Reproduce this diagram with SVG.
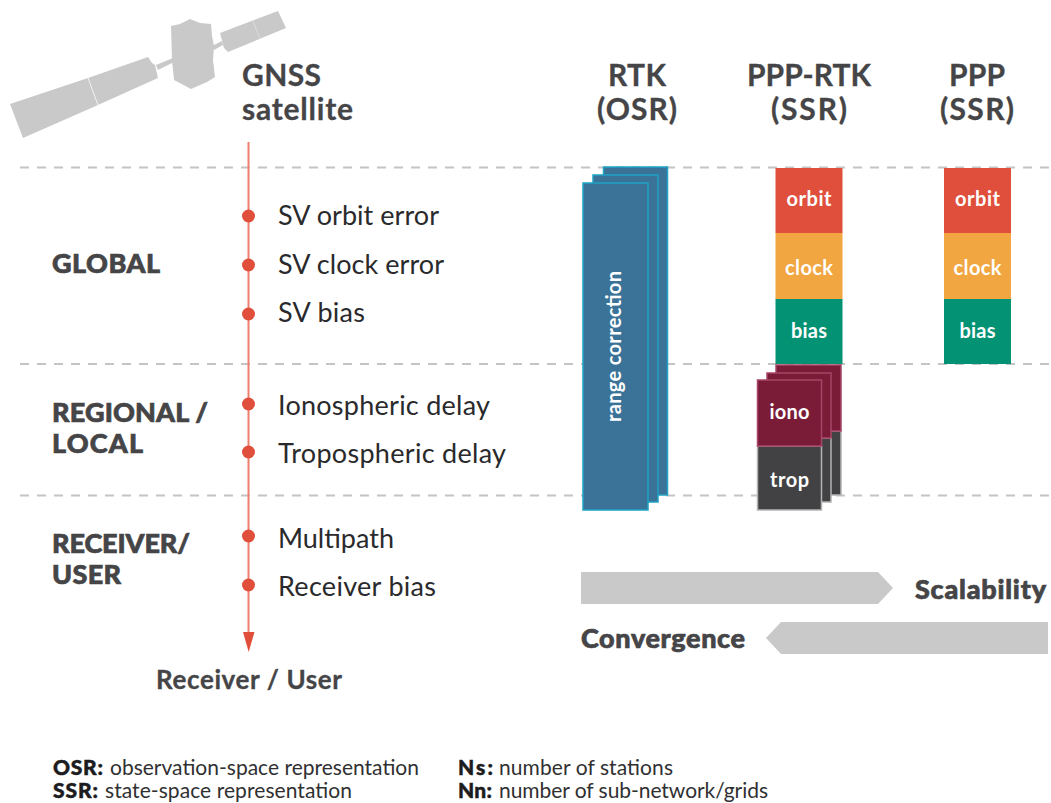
<svg xmlns="http://www.w3.org/2000/svg" width="1051" height="803" viewBox="0 0 1051 803">
<style>
text{font-family:"Lato","Noto Sans","Liberation Sans",sans-serif;fill:#454547}
.h{font-size:30px;font-weight:700;text-anchor:middle;stroke:#454547;stroke-width:.3px}
.hl{font-size:30px;font-weight:700;stroke:#454547;stroke-width:.3px}
.b{font-size:27px;font-weight:900;stroke:#454547;stroke-width:.7px}
.l{font-size:27px;font-weight:400;fill:#2a2a2c}
.c{font-size:20px;font-weight:700;fill:#fff;text-anchor:middle}
.f{font-size:21px;font-weight:400;fill:#303032}
.fb{font-size:21px;font-weight:900;fill:#1c1c1e;stroke:#1c1c1e;stroke-width:.5px}
.d{stroke:#c4c4c4;stroke-width:2;stroke-dasharray:9 8;fill:none}
.dot{fill:#e04f3c}
.s{fill:#c9c9c9}
.rc{fill:#3b7398;stroke:#1fa3c4;stroke-width:1.5}
.io{fill:#7a1c38;stroke:#a84468;stroke-width:1.5}
.tr{fill:#424244;stroke:#b4b4b4;stroke-width:1.5}
</style>
<g id="satellite">
<path class="s" d="M10 104L88 78L148 57L152 63L155 65L158 78L98 105L23 138Z"/>
<path d="M88 78L98 105" stroke="#f4f4f4" stroke-width="1" fill="none"/>
<path class="s" d="M156 65L173 58L174 62L158 70Z"/>
<path class="s" d="M171 26L180 24L190 19L200 23L211 24L212 36L214 46L213 60L215 77L207 82L191 89L174 80L172 60Z"/>
<path class="s" d="M212 46L222 41L223 45L214 50Z"/>
<path class="s" d="M220 33L278 11L286 28L228 52L224 48Z"/>
<path d="M253 21L260 39" stroke="#dcdcdc" stroke-width="1" fill="none"/>
</g>
<g id="guides">
<path class="d" d="M20 167.500H1051"/>
<path class="d" d="M20 364H1051"/>
<path class="d" d="M20 495.500H1051"/>
</g>
<g id="connectors">
<path d="M248.500 142V634" stroke="#ee7f70" stroke-width="2" fill="none"/>
<path d="M243 632H254.500L248.700 652Z" fill="#e04f3c"/>
</g>
<g id="axis-points">
<circle class="dot" cx="248.500" cy="216" r="6.500"/>
<circle class="dot" cx="248.500" cy="265" r="6.500"/>
<circle class="dot" cx="248.500" cy="314" r="6.500"/>
<circle class="dot" cx="248.500" cy="404" r="6.500"/>
<circle class="dot" cx="248.500" cy="452" r="6.500"/>
<circle class="dot" cx="248.500" cy="536" r="6.500"/>
<circle class="dot" cx="248.500" cy="585" r="6.500"/>
</g>
<g id="axis-labels">
<text class="l" x="278" y="225" textLength="161">SV orbit error</text>
<text class="l" x="278" y="274" textLength="166">SV clock error</text>
<text class="l" x="278" y="322" textLength="87">SV bias</text>
<text class="l" x="278" y="415" textLength="212">Ionospheric delay</text>
<text class="l" x="278" y="463" textLength="228">Tropospheric delay</text>
<text class="l" x="278" y="548" textLength="116">Multipath</text>
<text class="l" x="278" y="596" textLength="158">Receiver bias</text>
</g>
<g id="scope-labels">
<text class="b" x="52" y="273" textLength="108">GLOBAL</text>
<text class="b" x="52" y="422" textLength="156">REGIONAL /</text>
<text class="b" x="52" y="453" textLength="91">LOCAL</text>
<text class="b" x="52" y="553" textLength="138">RECEIVER/</text>
<text class="b" x="52" y="584" textLength="69">USER</text>
</g>
<g id="headers">
<text class="hl" x="242" y="86" textLength="79">GNSS</text>
<text class="hl" x="242" y="120" textLength="111">satellite</text>
<text class="h" x="637" y="86" textLength="58">RTK</text>
<text class="h" x="637" y="120" textLength="80">(OSR)</text>
<text class="h" x="809" y="86" textLength="124">PPP-RTK</text>
<text class="h" x="809" y="120" textLength="76">(SSR)</text>
<text class="h" x="977" y="86" textLength="56">PPP</text>
<text class="h" x="977" y="120" textLength="74">(SSR)</text>
</g>
<g id="rtk">
<rect class="rc" x="603.500" y="167" width="64" height="328"/>
<rect class="rc" x="593" y="175" width="65" height="327"/>
<rect class="rc" x="583" y="183" width="65" height="327"/>
<text class="c" transform="translate(621 346.500) rotate(-90)" textLength="151">range correction</text>
</g>
<g id="ppp-rtk">
<rect x="775.500" y="168" width="67" height="65" fill="#e04f3b"/>
<text class="c" x="809" y="206" textLength="45">orbit</text>
<rect x="775.500" y="233" width="67" height="66" fill="#f1a641"/>
<text class="c" x="809" y="275" textLength="48">clock</text>
<rect x="775.500" y="299" width="67" height="65" fill="#049274"/>
<text class="c" x="809" y="338" textLength="36">bias</text>
<rect class="tr" x="776" y="431" width="65" height="64"/>
<rect class="io" x="776" y="365" width="65" height="66"/>
<rect class="tr" x="767" y="438" width="64" height="64"/>
<rect class="io" x="767" y="373" width="64" height="65"/>
<rect class="tr" x="757.500" y="446" width="64" height="64"/>
<rect class="io" x="757.500" y="380" width="64" height="66"/>
<text class="c" x="789.500" y="419" textLength="40">iono</text>
<text class="c" x="789.500" y="487" textLength="39">trop</text>
</g>
<g id="ppp">
<rect x="944" y="168" width="67" height="65" fill="#e04f3b"/>
<text class="c" x="977.500" y="206" textLength="45">orbit</text>
<rect x="944" y="233" width="67" height="66" fill="#f1a641"/>
<text class="c" x="977.500" y="275" textLength="48">clock</text>
<rect x="944" y="299" width="67" height="65" fill="#049274"/>
<text class="c" x="977.500" y="338" textLength="36">bias</text>
</g>
<g id="scalability">
<path class="s" d="M581 572H878L893 588L878 604H581Z"/>
<text class="b" x="915" y="599" textLength="131">Scalability</text>
</g>
<g id="convergence">
<path class="s" d="M1048 622H781L766 638L781 654H1048Z"/>
<text class="b" x="581" y="648" textLength="164">Convergence</text>
</g>
<g id="receiver">
<text x="156" y="689" textLength="186" style="font-size:26px;font-weight:700;stroke:#454547;stroke-width:.3px">Receiver / User</text>
</g>
<g id="legend">
<text class="fb" x="53" y="775" textLength="50">OSR:</text>
<text class="f" x="110" y="775" textLength="309">observation-space representation</text>
<text class="fb" x="53" y="798" textLength="45">SSR:</text>
<text class="f" x="105" y="798" textLength="247">state-space representation</text>
<text class="fb" x="458" y="775" textLength="35">Ns:</text>
<text class="f" x="499" y="775" textLength="174">number of stations</text>
<text class="fb" x="458" y="798" textLength="34">Nn:</text>
<text class="f" x="499" y="798" textLength="269">number of sub-network/grids</text>
</g>
</svg>
